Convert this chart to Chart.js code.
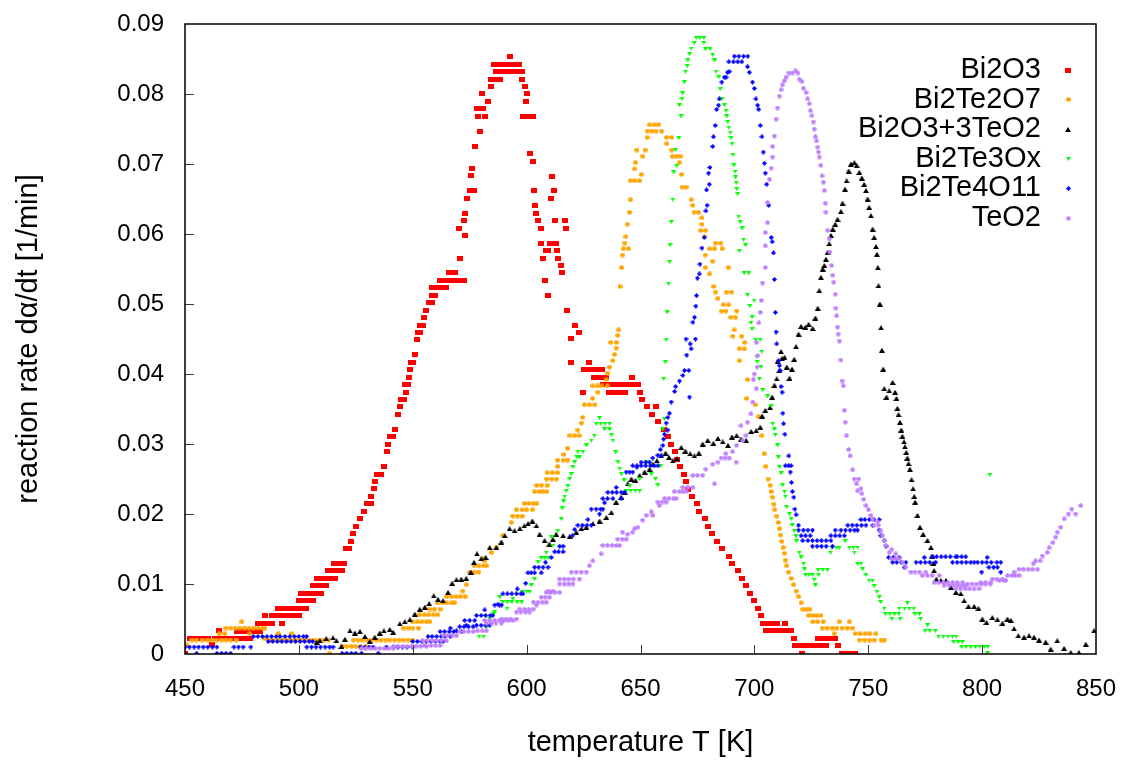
<!DOCTYPE html>
<html>
<head>
<meta charset="utf-8">
<script src="https://cdn.jsdelivr.net/npm/chart.js@4.4.0/dist/chart.umd.min.js"></script>
<style>
  body { margin: 0; background: #fff; }
  #wrap { width: 1123px; height: 760px; }
</style>
</head>
<body>
<div id="wrap"><canvas id="rateChart" width="1123" height="760"></canvas></div>
<script>
// Series: [temperature K, reaction rate 1/min]
const seriesNames = ['Bi2O3', 'Bi2Te2O7', 'Bi2O3+3TeO2', 'Bi2Te3Ox', 'Bi2Te4O11', 'TeO2'];
const xTicks = [450, 500, 550, 600, 650, 700, 750, 800, 850];
const yTicks = [0, 0.01, 0.02, 0.03, 0.04, 0.05, 0.06, 0.07, 0.08, 0.09];

const bi2o3 = [
  [450.2,0.0001],[452,0.0022],[454,0.0022],[456,0.0022],[458,0.0022],[460,0.0022],[462,0.0014],[463,0.0022],[465,0.0033],[465.5,0.0022],
  [467.5,0.0022],[469.5,0.0022],[471.5,0.0022],[473.5,0.0022],[473,0.0032],[475,0.0032],[477,0.0032],[479,0.0032],[481,0.0032],[483,0.0032],
  [476,0.0022],[478.5,0.0022],[482,0.0044],[484,0.0044],[486,0.0044],[488,0.0044],[485,0.0055],[488,0.0055],[490,0.0055],[492,0.0055],
  [494,0.0055],[496,0.0055],[498,0.0055],[500,0.0055],[492.5,0.0044],[491,0.0065],[493,0.0065],[495,0.0065],[497,0.0065],[499,0.0065],
  [501,0.0065],[503,0.0065],[500,0.0077],[502,0.0077],[504,0.0077],[506,0.0077],[501,0.0087],[503,0.0087],[505,0.0087],[507,0.0087],
  [509.5,0.0087],[506,0.0098],[508,0.0098],[510,0.0098],[512,0.0098],[508,0.0108],[510,0.0108],[512,0.0108],[514,0.0108],[516,0.0108],
  [513,0.0120],[515,0.0120],[517,0.0120],[519,0.0120],[515.5,0.0130],[517.5,0.0130],[520,0.0130],[520.7,0.0151],[522,0.0151],[522.9,0.0161],
  [523.8,0.0172],[525.1,0.0182],[526.9,0.0194],[528.6,0.0204],[530,0.0215],[531.5,0.0215],[531.7,0.0225],[533,0.0237],[533.5,0.0247],[534.5,0.0257],
  [536,0.0257],[537.4,0.0268],[538.6,0.0290],[539.2,0.0300],[540,0.0311],[541.2,0.0311],[542.2,0.0321],[543.6,0.0342],[544.4,0.0354],[545,0.0364],
  [546.2,0.0364],[547.1,0.0374],[546.8,0.0385],[548,0.0385],[548.4,0.0395],[548.8,0.0407],[549.2,0.0417],[550.2,0.0417],[551,0.0428],[551.9,0.0450],
  [552.2,0.0460],[553.4,0.0460],[553.3,0.0470],[554.5,0.0470],[555,0.0481],[556,0.0491],[557.3,0.0502],[558.5,0.0502],[558.6,0.0512],[559.8,0.0512],
  [558.5,0.0524],[560.5,0.0524],[562.5,0.0524],[564.5,0.0524],[562,0.0534],[564,0.0534],[566,0.0534],[568,0.0534],[570,0.0534],[572.3,0.0534],
  [566,0.0545],[568.5,0.0545],[570.8,0.0565],[570.3,0.0608],[572.8,0.0598],[572.5,0.0620],[573,0.0630],[573.8,0.0651],[575,0.0662],[577,0.0662],
  [575.6,0.0683],[576,0.0694],[577.2,0.0725],[579.5,0.0747],[578.6,0.0768],[581.7,0.0768],[578.2,0.0780],[580.8,0.0780],[582.9,0.0790],[580.4,0.0801],
  [584.5,0.0811],[584.3,0.0821],[586.5,0.0821],[588.5,0.0821],[586.5,0.0832],[588.5,0.0832],[590.5,0.0832],[592.3,0.0832],[585.7,0.0842],[588.5,0.0842],
  [590.5,0.0842],[592.5,0.0842],[594.5,0.0842],[596.5,0.0842],[592.7,0.0854],[594,0.0832],[596,0.0832],[597.8,0.0832],[598,0.0821],[599.3,0.0811],
  [600.2,0.0801],[599.7,0.0790],[598.5,0.0768],[600.5,0.0768],[602.8,0.0768],[601.4,0.0715],[602.8,0.0704],[611.2,0.0682],[603.2,0.0662],[612,0.0662],
  [610.7,0.0651],[603.7,0.0641],[604.3,0.0630],[605,0.0620],[612.4,0.0620],[616.8,0.0620],[606.3,0.0608],[617.2,0.0608],[606.3,0.0587],[610.2,0.0587],
  [612.9,0.0587],[608.6,0.0577],[609.5,0.0577],[613.3,0.0577],[607.2,0.0565],[613.7,0.0565],[615.2,0.0555],[615.5,0.0545],[607.9,0.0534],[609.3,0.0512],
  [617.8,0.0491],[621.4,0.0470],[623,0.0460],[619.6,0.0451],[619.7,0.0417],[627.2,0.0417],[625,0.0407],[627,0.0407],[629,0.0407],[631,0.0407],
  [633,0.0407],[629.5,0.0395],[631.5,0.0395],[633.5,0.0395],[635,0.0395],[646.2,0.0395],[633.5,0.0385],[635.5,0.0385],[637.5,0.0385],[639.5,0.0385],
  [641,0.0385],[643,0.0385],[645,0.0385],[647,0.0385],[649,0.0385],[624.7,0.0374],[636,0.0374],[638,0.0374],[640,0.0374],[641.7,0.0374],
  [643,0.0374],[649.7,0.0374],[650.5,0.0364],[653,0.0354],[656.7,0.0354],[654.9,0.0342],[657.9,0.0332],[660.5,0.0321],[662,0.0311],[663.5,0.0300],
  [665,0.0290],[666,0.0278],[667.5,0.0268],[669,0.0257],[670,0.0247],[671,0.0235],[672.8,0.0225],[675,0.0215],[675.8,0.0204],[678.2,0.0194],
  [679.7,0.0182],[681.3,0.0172],[683.5,0.0161],[686,0.0151],[688.7,0.0140],[690,0.0130],[693,0.0120],[694.6,0.0108],[696.2,0.0098],[698,0.0087],
  [699.7,0.0077],[701.8,0.0065],[702.8,0.0055],[703.8,0.0044],[705.8,0.0044],[707.8,0.0044],[710,0.0044],[713.5,0.0044],[705,0.0034],[707.5,0.0034],
  [709.5,0.0034],[711.5,0.0034],[713.5,0.0034],[716,0.0034],[717.2,0.0022],[728,0.0022],[730.5,0.0022],[733,0.0022],[735.5,0.0022],[718,0.0012],
  [720,0.0012],[722,0.0012],[724,0.0012],[726,0.0012],[728,0.0012],[730,0.0012],[731.5,0.0012],[736.8,0.0012],[720.7,0.0001],[738.3,0.0001],
  [740.3,0.0001],[742.3,0.0001],[744.3,0.0001]
];

const bi2te2o7 = [
  [450.7,0.0013],[453,0.0020],[455,0.0020],[457.5,0.0020],[460,0.0020],[462,0.0020],[464,0.0020],[466,0.0020],[468,0.0020],[470,0.0020],
  [472.5,0.0020],[465,0.0029],[467.5,0.0029],[478.5,0.0029],[468,0.0037],[470,0.0037],[472,0.0037],[474,0.0037],[476,0.0037],[478,0.0037],
  [480,0.0037],[482,0.0037],[484,0.0037],[474.9,0.0046],[485,0.0022],[485,0.0037],[487,0.0020],[489,0.0020],[491,0.0020],[493,0.0020],
  [491,0.0029],[495,0.0020],[497,0.0020],[499,0.0020],[501,0.0020],[503,0.0020],[505,0.0020],[496.8,0.0029],[507,0.0020],[509,0.0020],
  [511,0.0020],[513,0.0020],[513.6,0.0001],[519,0.0011],[521,0.0011],[523,0.0011],[525,0.0011],[527,0.0011],[529.5,0.0011],[524,0.0020],
  [526,0.0020],[528,0.0020],[530,0.0020],[532,0.0020],[534,0.0020],[536,0.0020],[538,0.0020],[540,0.0020],[542,0.0020],[544,0.0020],
  [546,0.0020],[548,0.0020],[550,0.0020],[546,0.0037],[548,0.0037],[550,0.0037],[552.5,0.0037],[550,0.0046],[552,0.0046],[554,0.0046],
  [556,0.0046],[557.5,0.0046],[553,0.0056],[555,0.0056],[557,0.0056],[559,0.0056],[561,0.0056],[557.5,0.0064],[559.5,0.0064],[562,0.0064],
  [561,0.0073],[563,0.0073],[565,0.0073],[567,0.0073],[568.4,0.0073],[565,0.0082],[567,0.0082],[569,0.0082],[571,0.0082],[573,0.0082],
  [572,0.0090],[573.5,0.0099],[575,0.0117],[577,0.0117],[579,0.0117],[577,0.0126],[579,0.0126],[581,0.0126],[582.5,0.0126],[580.8,0.0136],
  [581.6,0.0133],[584.5,0.0145],[586.7,0.0152],[589.6,0.0169],[593.3,0.0188],[594,0.0197],[596,0.0197],[598,0.0197],[595.5,0.0206],[598,0.0206],
  [600,0.0206],[602.5,0.0206],[599,0.0215],[601,0.0215],[603,0.0215],[604.4,0.0215],[603.5,0.0232],[605.5,0.0232],[607,0.0232],[608.8,0.0232],
  [604.4,0.0241],[606.5,0.0241],[609,0.0241],[608.8,0.0250],[611,0.0250],[613,0.0250],[609,0.0259],[611.3,0.0259],[613.6,0.0259],[613.7,0.0268],
  [613.6,0.0277],[616,0.0277],[618,0.0277],[616.4,0.0285],[618,0.0294],[619,0.0312],[621,0.0312],[623,0.0312],[622.5,0.0320],[624,0.0330],
  [624.7,0.0338],[625.4,0.0356],[627.5,0.0356],[630,0.0356],[629,0.0365],[631.3,0.0374],[629,0.0383],[631,0.0383],[633,0.0383],[635.5,0.0383],
  [634.9,0.0392],[635.6,0.0401],[636.4,0.0410],[637.9,0.0419],[638.6,0.0428],[639.3,0.0437],[637,0.0445],[639.3,0.0445],[640,0.0455],[640.4,0.0463],
  [641,0.0525],[641.7,0.0552],[642.1,0.0570],[642.5,0.0579],[644.7,0.0579],[643.1,0.0587],[643.6,0.0596],[644.2,0.0614],[645.2,0.0631],[645.6,0.0649],
  [645.5,0.0676],[647.5,0.0676],[649.5,0.0676],[647.4,0.0693],[647.8,0.0702],[650.3,0.0685],[648.4,0.0720],[652,0.0720],[651,0.0711],[652.9,0.0738],
  [653,0.0747],[655,0.0747],[656.8,0.0747],[654,0.0756],[656,0.0756],[658,0.0756],[659.3,0.0747],[661.5,0.0738],[663.7,0.0738],[661.5,0.0729],
  [663.7,0.0720],[664,0.0711],[665.7,0.0711],[667.4,0.0711],[667,0.0702],[668,0.0685],[668.3,0.0667],[670,0.0667],[672.2,0.0649],[673,0.0641],
  [673.5,0.0631],[675.5,0.0631],[677,0.0623],[677,0.0614],[676.5,0.0605],[678.5,0.0605],[678,0.0596],[683,0.0587],[685.3,0.0587],[680.5,0.0579],
  [682.5,0.0579],[685.8,0.0579],[678.4,0.0570],[681.7,0.0561],[678.4,0.0552],[688.6,0.0552],[680.3,0.0543],[682.2,0.0525],[683,0.0517],[687.7,0.0517],
  [690,0.0517],[684,0.0508],[686.4,0.0499],[688.7,0.0499],[685.5,0.0490],[687.5,0.0490],[692.3,0.0490],[689.7,0.0481],[691.6,0.0481],[691.1,0.0463],
  [690.6,0.0454],[694.5,0.0454],[695.8,0.0445],[693.5,0.0436],[695.5,0.0436],[693.4,0.0419],[697,0.0392],[696.6,0.0365],[700.4,0.0356],[701.8,0.0339],
  [703.3,0.0312],[704.3,0.0286],[705,0.0268],[706,0.0250],[706.9,0.0241],[707.3,0.0232],[708,0.0224],[708.6,0.0214],[709,0.0206],[709.8,0.0197],
  [710.5,0.0188],[711,0.0179],[711.4,0.0170],[712,0.0161],[712.6,0.0152],[713.2,0.0144],[713.6,0.0134],[714.2,0.0126],[715,0.0117],[716.1,0.0108],
  [717.2,0.0099],[718.3,0.0090],[719.4,0.0082],[720.5,0.0073],[721.3,0.0064],[722.8,0.0064],[724.4,0.0064],[723.9,0.0055],[725.5,0.0055],[727.3,0.0055],
  [729.2,0.0055],[725.7,0.0046],[727.7,0.0046],[730.2,0.0046],[737.3,0.0046],[741.7,0.0046],[729.8,0.0037],[732,0.0037],[734.2,0.0037],[736.2,0.0037],
  [738.5,0.0037],[740.8,0.0037],[743,0.0037],[735,0.0029],[744.2,0.0029],[746.4,0.0029],[748.6,0.0029],[750.7,0.0029],[753.4,0.0029],[746.2,0.0020],
  [748.4,0.0020],[750.6,0.0020],[752.6,0.0020],[755.6,0.0020],[757,0.0020]
];

const bi2o3TeO2 = [
  [507.8,0.0017],[509.2,0.0019],[512,0.0022],[515,0.0023],[516.5,0.0019],[518.7,0.0011],[520.2,0.0021],[522.4,0.0033],[524.6,0.0030],[526.8,0.0032],
  [529,0.0025],[531.1,0.0018],[533.3,0.0024],[535.5,0.0030],[537.3,0.0033],[539.9,0.0035],[541.4,0.0031],[544.3,0.0043],[546.5,0.0046],[548.7,0.0049],
  [550.9,0.0057],[553.1,0.0064],[555.3,0.0067],[557.2,0.0072],[559.2,0.0083],[561.1,0.0078],[563.3,0.0076],[565.5,0.0088],[567.3,0.0101],[569.2,0.0106],
  [571.3,0.0107],[573.5,0.0108],[575.5,0.0117],[576.9,0.0131],[578.2,0.0143],[580.1,0.0136],[582,0.0138],[583.8,0.0152],[586.7,0.0152],[588.9,0.0160],
  [590.4,0.0169],[592.5,0.0179],[594.7,0.0176],[597,0.0179],[599,0.0183],[600.6,0.0186],[602.5,0.0190],[604.3,0.0183],[605.7,0.0171],[607.9,0.0162],
  [610,0.0157],[611.5,0.0164],[613,0.0171],[616,0.0169],[618.9,0.0168],[621.8,0.0174],[624,0.0179],[626.2,0.0181],[629.1,0.0186],[632,0.0190],
  [635,0.0195],[637.2,0.0202],[639.3,0.0217],[641.5,0.0224],[643,0.0231],[644.4,0.0243],[646,0.0250],[647.8,0.0248],[649.6,0.0255],[651.8,0.0260],
  [654,0.0264],[655.4,0.0271],[657.2,0.0276],[659.1,0.0283],[661,0.0287],[662.5,0.0281],[664.2,0.0276],[666,0.0279],[667.9,0.0295],[669.7,0.0290],
  [671.8,0.0286],[673.7,0.0283],[675.6,0.0287],[677.3,0.0300],[679.5,0.0305],[682,0.0301],[684,0.0308],[686.1,0.0303],[688.4,0.0298],[690.2,0.0310],
  [692.2,0.0312],[694.2,0.0307],[696.4,0.0305],[698.6,0.0318],[700.8,0.0319],[702.6,0.0324],[703.4,0.0340],[704.8,0.0348],[706.9,0.0352],[707.8,0.0367],
  [708.8,0.0384],[709.8,0.0393],[711,0.0405],[710.2,0.0418],[712.1,0.0422],[711.7,0.0432],[713.2,0.0424],[714.2,0.0410],[715.4,0.0394],[716.5,0.0407],
  [717.5,0.0421],[718.3,0.0439],[719.4,0.0457],[720.5,0.0468],[722.4,0.0467],[723.8,0.0471],[725.6,0.0465],[726.8,0.0480],[727.8,0.0494],[728.5,0.0519],
  [729.2,0.0538],[730,0.0550],[730.7,0.0555],[731.4,0.0564],[732.2,0.0574],[732.9,0.0586],[733.6,0.0598],[734.4,0.0607],[735.5,0.0614],[736.5,0.0621],
  [738,0.0632],[738.7,0.0644],[739.8,0.0664],[740.5,0.0676],[741.4,0.0690],[742.4,0.0700],[743.9,0.0702],[744.9,0.0698],[746.1,0.0688],[747.2,0.0680],
  [748.2,0.0671],[749,0.0662],[749.7,0.0650],[750.4,0.0638],[751.2,0.0626],[751.9,0.0607],[752.6,0.0595],[753.4,0.0582],[753.8,0.0571],[754.2,0.0552],
  [754.5,0.0526],[755.1,0.0500],[755.6,0.0466],[756,0.0434],[756.6,0.0407],[757,0.0379],[758,0.0367],[759.2,0.0376],[760.7,0.0388],[761.8,0.0374],
  [762.4,0.0365],[762.8,0.0351],[763.3,0.0342],[763.9,0.0331],[764.5,0.0320],[765,0.0311],[765.7,0.0303],[766.1,0.0296],[766.7,0.0288],[767.2,0.0280],
  [767.7,0.0272],[768.3,0.0264],[769,0.0249],[769.7,0.0236],[770.2,0.0225],[770.6,0.0217],[771.6,0.0198],[772.7,0.0181],[774.1,0.0171],[776,0.0162],
  [777.5,0.0152],[778.2,0.0140],[778.6,0.0130],[778.9,0.0119],[779.9,0.0107],[781.9,0.0105],[784.1,0.0105],[786.3,0.0095],[788.5,0.0088],[790.6,0.0086],
  [792.1,0.0076],[794,0.0068],[796.5,0.0068],[798.4,0.0065],[800.1,0.0050],[801.9,0.0045],[804.5,0.0052],[806.7,0.0049],[808.9,0.0044],[811.1,0.0050],
  [812.6,0.0048],[814,0.0036],[815.9,0.0026],[818.4,0.0024],[820.6,0.0026],[822.8,0.0024],[825,0.0020],[827.9,0.0017],[830.1,0.0007],[833,0.0019],
  [836,0.0008],[838.9,0.0002],[842.5,0.0002],[845.5,0.0014],[849.1,0.0033]
];

const bi2te3ox = [
  [579.1,0.0025],[581.1,0.0025],[582.3,0.0038],[583.8,0.0050],[585.5,0.0057],[586,0.0060],[588.2,0.0081],[589.5,0.0074],[591.4,0.0065],[591.5,0.0074],
  [593.5,0.0074],[594,0.0079],[595.8,0.0074],[597.8,0.0074],[598,0.0089],[600,0.0089],[601.3,0.0089],[602,0.0098],[603.5,0.0107],[605,0.0131],
  [606.4,0.0137],[608,0.0137],[609.4,0.0137],[608.6,0.0145],[611.5,0.0155],[610.8,0.0167],[613.7,0.0176],[615.2,0.0193],[615.6,0.0208],[616.2,0.0218],
  [616.7,0.0225],[617.4,0.0233],[618.1,0.0240],[618.9,0.0250],[619.6,0.0257],[620.3,0.0267],[621.1,0.0274],[622.1,0.0281],[623.2,0.0281],[622.5,0.0289],
  [624.7,0.0289],[626.2,0.0298],[628.4,0.0305],[629.8,0.0312],[630.6,0.0329],[632.5,0.0329],[634.5,0.0329],[636.4,0.0329],[632,0.0337],[634.2,0.0321],
  [636.4,0.0321],[637.2,0.0313],[637.9,0.0305],[639.1,0.0288],[640.1,0.0274],[640.9,0.0265],[641.6,0.0257],[642.8,0.0248],[645.3,0.0240],[643.7,0.0233],
  [645.7,0.0233],[647.7,0.0233],[649.6,0.0233],[649.6,0.0250],[652.5,0.0274],[654.7,0.0257],[656.6,0.0250],[657.6,0.0241],[658.7,0.0268],[659.8,0.0321],
  [660.5,0.0336],[660.2,0.0393],[660.8,0.0417],[661.3,0.0449],[661.7,0.0488],[662.3,0.0529],[662.7,0.0560],[663,0.0584],[663.5,0.0617],[664.2,0.0649],
  [664.6,0.0688],[665.9,0.0697],[665.3,0.0720],[666.8,0.0737],[667.8,0.0768],[667.1,0.0784],[668.2,0.0793],[668.5,0.0801],[669.3,0.0817],[669.7,0.0832],
  [670.5,0.0840],[670.8,0.0848],[671.5,0.0857],[672.2,0.0865],[673.7,0.0873],[674.5,0.0880],[676,0.0880],[677.8,0.0880],[677.8,0.0873],[678.5,0.0864],
  [680.5,0.0864],[681.7,0.0856],[682.5,0.0848],[683.2,0.0832],[684.4,0.0824],[685,0.0807],[685.8,0.0793],[686.8,0.0784],[687.6,0.0776],[687.9,0.0768],
  [688.3,0.0760],[688.8,0.0752],[689.4,0.0745],[689.7,0.0737],[690.2,0.0729],[690.6,0.0713],[691,0.0698],[691.5,0.0689],[691.7,0.0681],[692,0.0673],
  [692.3,0.0664],[692.7,0.0657],[693.1,0.0625],[693.7,0.0617],[694.6,0.0608],[695.2,0.0592],[693.4,0.0576],[696.1,0.0584],[695.5,0.0544],[697.5,0.0544],
  [697,0.0513],[699.9,0.0505],[698,0.0497],[699,0.0481],[698.5,0.0473],[699,0.0464],[700.5,0.0449],[702.5,0.0449],[703.2,0.0432],[701,0.0425],
  [701.2,0.0417],[702.9,0.0410],[702.2,0.0393],[703.7,0.0377],[705.8,0.0368],[707.3,0.0354],[708,0.0329],[708.8,0.0321],[709.2,0.0313],[710.2,0.0298],
  [710.5,0.0281],[711,0.0267],[711.7,0.0258],[712.4,0.0241],[713.2,0.0232],[713.6,0.0225],[714.2,0.0210],[715.4,0.0200],[716.1,0.0193],[716.6,0.0184],
  [717.5,0.0176],[718.3,0.0168],[718.6,0.0161],[719.7,0.0145],[720.5,0.0138],[721.5,0.0129],[722,0.0121],[722.5,0.0113],[724,0.0113],[725.6,0.0113],
  [726.3,0.0106],[726.8,0.0098],[728.2,0.0113],[728,0.0120],[730,0.0120],[732,0.0120],[733.5,0.0145],[734,0.0152],[736,0.0152],[737.3,0.0152],
  [739.8,0.0161],[741.7,0.0152],[743.5,0.0152],[745.3,0.0152],[743.9,0.0145],[745.3,0.0129],[746.8,0.0129],[747.5,0.0121],[749,0.0113],[750.4,0.0105],
  [751.9,0.0105],[752.6,0.0097],[753.8,0.0089],[754.8,0.0081],[755.5,0.0074],[757,0.0065],[757.5,0.0057],[759.5,0.0057],[761.5,0.0057],[763.5,0.0057],
  [760.4,0.0050],[764,0.0050],[763.6,0.0065],[766,0.0065],[768,0.0065],[770,0.0065],[767.2,0.0073],[770.5,0.0057],[772.5,0.0057],[773,0.0050],
  [776,0.0041],[775,0.0033],[777,0.0033],[779.5,0.0033],[780.8,0.0025],[783,0.0025],[785,0.0025],[787,0.0025],[788.6,0.0025],[787.5,0.0017],
  [789.5,0.0017],[791.4,0.0017],[791,0.0010],[793,0.0010],[795,0.0010],[797,0.0010],[799,0.0010],[801,0.0010],[802.5,0.0010],[802.4,0.0001],
  [803.4,0.0256]
];

const bi2te4o11 = [
  [450,0.0010],[452,0.0010],[454,0.0010],[456,0.0010],[458,0.0010],[460,0.0010],[462,0.0010],[464,0.0010],[455.1,0.0001],[464,0.0001],
  [466,0.0001],[468,0.0001],[470,0.0001],[471.5,0.0010],[473.5,0.0010],[475.5,0.0010],[478.9,0.0010],[480,0.0025],[482,0.0025],[484,0.0025],
  [486,0.0025],[488,0.0025],[490,0.0025],[491.7,0.0025],[493.9,0.0025],[486.5,0.0018],[488.5,0.0018],[490.5,0.0018],[492.5,0.0018],[494.5,0.0018],
  [496.5,0.0018],[498.5,0.0018],[500.5,0.0018],[502.5,0.0018],[504.5,0.0018],[506,0.0018],[496,0.0025],[498,0.0025],[500,0.0025],[502,0.0025],
  [503.4,0.0025],[503.5,0.0010],[505.5,0.0010],[507.5,0.0010],[509.5,0.0010],[511.5,0.0010],[513.5,0.0010],[515,0.0010],[519,0.0001],[521,0.0001],
  [523,0.0001],[525,0.0001],[527.5,0.0001],[534.8,0.0001],[527,0.0010],[529,0.0010],[531,0.0010],[532.6,0.0010],[538.4,0.0010],[541.5,0.0010],
  [543.5,0.0010],[545.5,0.0010],[547.5,0.0010],[550,0.0010],[550,0.0018],[552,0.0018],[554,0.0018],[556,0.0018],[558,0.0018],[560,0.0018],
  [562,0.0018],[563.3,0.0018],[556.7,0.0025],[558.5,0.0025],[560.5,0.0025],[562.5,0.0025],[564,0.0025],[566.5,0.0025],[562,0.0032],[564,0.0032],
  [566,0.0032],[568,0.0032],[569.2,0.0033],[571.4,0.0032],[566.5,0.0037],[570.6,0.0039],[572.5,0.0039],[574.5,0.0039],[576.5,0.0039],[573.5,0.0041],
  [578,0.0041],[580,0.0041],[582,0.0041],[583.8,0.0041],[572.8,0.0048],[575,0.0048],[577.2,0.0048],[578,0.0055],[580,0.0055],[582,0.0055],
  [584,0.0055],[585.1,0.0055],[581.6,0.0063],[586,0.0070],[588,0.0070],[589,0.0070],[587.4,0.0071],[589.6,0.0086],[591.5,0.0086],[593.5,0.0086],
  [595.5,0.0086],[597.5,0.0086],[598.4,0.0086],[595.9,0.0093],[599.6,0.0101],[600.6,0.0116],[602,0.0116],[603.5,0.0116],[606.4,0.0116],[603.5,0.0124],
  [605.3,0.0124],[607.2,0.0124],[609.4,0.0124],[608.3,0.0131],[610.8,0.0138],[612.3,0.0146],[614,0.0146],[616,0.0146],[614.5,0.0154],[616,0.0154],
  [620.1,0.0169],[621.1,0.0178],[622.5,0.0184],[624.5,0.0184],[626.5,0.0184],[628.4,0.0184],[626.9,0.0192],[628.4,0.0207],[630.5,0.0207],[632.5,0.0207],
  [633.5,0.0207],[632,0.0200],[634.2,0.0216],[633.5,0.0222],[635.5,0.0222],[637.9,0.0222],[641.5,0.0222],[635.7,0.0231],[637.6,0.0231],[639.5,0.0231],
  [641.5,0.0231],[643,0.0231],[639.3,0.0238],[643.7,0.0260],[645.2,0.0260],[646.6,0.0260],[646.6,0.0269],[648.5,0.0269],[650.3,0.0269],[652.3,0.0269],
  [654.3,0.0269],[656,0.0269],[657.6,0.0269],[648.4,0.0267],[650.3,0.0274],[652.3,0.0274],[654,0.0274],[655.4,0.0280],[657.6,0.0284],[659.1,0.0283],
  [658.7,0.0292],[659.8,0.0298],[660.1,0.0307],[660.5,0.0314],[662,0.0320],[661.3,0.0330],[662,0.0338],[662.7,0.0344],[663.5,0.0360],[665,0.0375],
  [665.4,0.0382],[667.1,0.0390],[668.6,0.0398],[669.3,0.0405],[671.2,0.0405],[671.5,0.0367],[670.3,0.0427],[672.2,0.0436],[671.8,0.0443],[670,0.0450],
  [674.1,0.0450],[673,0.0474],[673.7,0.0481],[674.3,0.0497],[674.6,0.0512],[675,0.0537],[675.8,0.0543],[676.1,0.0557],[677,0.0580],[678,0.0595],
  [678.7,0.0633],[679.2,0.0641],[679,0.0663],[680.2,0.0671],[679.9,0.0687],[680.5,0.0695],[681.7,0.0725],[682,0.0739],[682.8,0.0755],[683.4,0.0778],
  [684.3,0.0784],[684.6,0.0793],[685.7,0.0817],[686.8,0.0824],[687.6,0.0824],[688.2,0.0831],[689,0.0832],[688.8,0.0846],[690.8,0.0846],[692.7,0.0846],
  [691.2,0.0854],[693.2,0.0854],[695.2,0.0854],[697.1,0.0854],[694.5,0.0846],[697,0.0839],[697.8,0.0831],[699.2,0.0817],[700,0.0808],[700.7,0.0793],
  [701.4,0.0784],[701.9,0.0778],[702.6,0.0755],[703.3,0.0739],[703.9,0.0717],[704.4,0.0701],[704.8,0.0687],[705.4,0.0671],[706.3,0.0641],[707.4,0.0595],
  [707.8,0.0589],[708.4,0.0573],[708.8,0.0535],[709.2,0.0488],[709.5,0.0460],[709.8,0.0443],[710.7,0.0419],[711,0.0412],[711.3,0.0405],[711.7,0.0382],
  [712.2,0.0374],[712.5,0.0344],[712.8,0.0329],[713.4,0.0314],[715.1,0.0283],[713.6,0.0269],[715,0.0269],[716.1,0.0269],[715.8,0.0260],[716.3,0.0245],
  [716.7,0.0232],[717.3,0.0224],[717.8,0.0207],[718.3,0.0199],[719.4,0.0184],[719.4,0.0177],[721.5,0.0177],[723.5,0.0177],[725.5,0.0177],[720.5,0.0169],
  [722.5,0.0169],[724.5,0.0169],[721.2,0.0162],[723.5,0.0162],[725.5,0.0162],[727.5,0.0162],[729.5,0.0162],[731.5,0.0162],[733.6,0.0162],[725.5,0.0154],
  [727.5,0.0154],[729.5,0.0154],[731.5,0.0154],[734.3,0.0154],[733.6,0.0169],[735.5,0.0169],[737.5,0.0169],[739.5,0.0169],[735.5,0.0177],[738,0.0177],
  [740,0.0177],[742,0.0177],[744,0.0177],[745.3,0.0177],[741,0.0184],[743,0.0184],[745,0.0184],[747,0.0184],[749,0.0184],[751.9,0.0184],
  [746.8,0.0192],[748.5,0.0192],[750.5,0.0192],[752.5,0.0192],[754.8,0.0192],[754.8,0.0177],[755.5,0.0169],[757,0.0162],[757.8,0.0154],[759,0.0138],
  [761,0.0138],[763.6,0.0138],[760.7,0.0131],[762.5,0.0131],[764.5,0.0131],[766.5,0.0131],[765.8,0.0124],[771,0.0131],[773,0.0131],[775,0.0131],
  [777,0.0131],[779.6,0.0131],[774.6,0.0138],[778,0.0139],[780,0.0139],[782,0.0139],[784,0.0139],[786,0.0139],[788.4,0.0139],[789,0.0139],
  [791,0.0139],[792.8,0.0139],[787,0.0131],[789,0.0131],[791,0.0131],[793,0.0131],[795,0.0131],[796.5,0.0131],[798,0.0131],[800,0.0131],
  [802,0.0131],[804,0.0131],[806.5,0.0131],[802.2,0.0138],[799.8,0.0117],[803,0.0124],[805,0.0124],[806.7,0.0124],[808.2,0.0117],[808.2,0.0131]
];

const teo2 = [
  [527.5,0.0008],[529.5,0.0008],[531.5,0.0008],[533.5,0.0008],[535.5,0.0008],[537.5,0.0008],[539.5,0.0008],[541.4,0.0008],[541.5,0.0011],[543.5,0.0011],
  [545.5,0.0011],[547.5,0.0011],[549.5,0.0011],[551.5,0.0011],[553.5,0.0011],[556,0.0011],[555,0.0012],[558,0.0012],[560,0.0012],[562,0.0012],
  [554.5,0.0019],[556.5,0.0019],[558.5,0.0019],[560.5,0.0019],[562.5,0.0019],[564.8,0.0019],[563.3,0.0026],[565.3,0.0026],[567.3,0.0026],[569.2,0.0026],
  [570.6,0.0032],[572.5,0.0032],[574.5,0.0032],[576.5,0.0032],[578.5,0.0033],[580.5,0.0033],[582.3,0.0033],[582.3,0.0044],[584.5,0.0044],[586.5,0.0044],
  [588.9,0.0044],[581.6,0.0048],[583.8,0.0048],[586,0.0048],[588,0.0048],[590,0.0048],[592,0.0048],[594,0.0048],[589,0.0050],[591,0.0050],
  [593,0.0050],[595.5,0.0050],[595.5,0.0060],[597.5,0.0060],[599.5,0.0060],[601.3,0.0060],[597,0.0064],[599,0.0064],[601,0.0064],[602.8,0.0064],
  [603,0.0074],[605,0.0074],[607,0.0074],[608.6,0.0074],[604.3,0.0070],[606.4,0.0081],[608.2,0.0081],[610,0.0081],[608.6,0.0088],[610.5,0.0088],
  [612.5,0.0088],[614.5,0.0088],[609.4,0.0090],[611.5,0.0090],[614.5,0.0100],[616.5,0.0100],[618.5,0.0100],[620.3,0.0100],[614.5,0.0107],[616.5,0.0107],
  [618.5,0.0107],[620.5,0.0107],[623.2,0.0107],[619.6,0.0117],[621.8,0.0117],[624,0.0117],[626.2,0.0117],[627.6,0.0126],[629.1,0.0133],[632.7,0.0143],
  [633.5,0.0155],[635.5,0.0155],[637.5,0.0155],[639.5,0.0155],[640.8,0.0155],[640,0.0164],[642,0.0164],[643.7,0.0164],[642.2,0.0174],[644.4,0.0171],
  [646.6,0.0174],[647.4,0.0179],[648.8,0.0181],[651,0.0191],[652.5,0.0198],[654.7,0.0203],[655.4,0.0198],[657.6,0.0217],[659.5,0.0217],[661.3,0.0217],
  [658.3,0.0212],[660.5,0.0222],[662.5,0.0222],[664.5,0.0222],[665.6,0.0222],[664.9,0.0232],[667,0.0232],[668.5,0.0232],[670,0.0232],[668.6,0.0238],
  [670.8,0.0238],[673,0.0238],[673,0.0255],[675,0.0255],[677.3,0.0255],[678.7,0.0264],[682.5,0.0243],[681.7,0.0271],[684,0.0274],[685.4,0.0280],
  [687.2,0.0280],[689,0.0280],[687.5,0.0286],[690.4,0.0289],[692,0.0274],[692.2,0.0298],[694.9,0.0305],[696.3,0.0312],[694.1,0.0326],[697,0.0331],
  [698.5,0.0343],[699.3,0.0360],[700.8,0.0379],[699.6,0.0392],[700,0.0400],[701.2,0.0410],[701.5,0.0426],[700.8,0.0445],[702,0.0473],[702.6,0.0488],
  [703,0.0505],[703.6,0.0530],[704.8,0.0552],[704.8,0.0583],[704.8,0.0602],[705.8,0.0616],[705.8,0.0645],[706.6,0.0678],[707.3,0.0694],[708,0.0710],
  [708,0.0725],[708.8,0.0740],[709.5,0.0764],[710.2,0.0780],[711,0.0797],[711.7,0.0806],[712.4,0.0813],[713.2,0.0819],[713.9,0.0824],[715.1,0.0830],
  [716.6,0.0830],[718.1,0.0833],[719.1,0.0830],[719.7,0.0821],[720.9,0.0818],[721.6,0.0808],[722.7,0.0802],[723.4,0.0793],[724.1,0.0786],[724.6,0.0776],
  [725.3,0.0769],[725.9,0.0760],[726.3,0.0750],[726.8,0.0739],[727.3,0.0733],[727.8,0.0724],[728.2,0.0717],[728.5,0.0710],[729.2,0.0698],[729.7,0.0683],
  [730.3,0.0674],[730.7,0.0662],[731.1,0.0644],[731.4,0.0631],[732.2,0.0605],[732.9,0.0593],[733.2,0.0574],[733.9,0.0555],[734.4,0.0541],[734.8,0.0531],
  [735.5,0.0514],[735.8,0.0494],[736.1,0.0483],[736.5,0.0467],[736.8,0.0457],[737.3,0.0447],[738,0.0420],[738.5,0.0390],[739,0.0383],[739.5,0.0348],
  [739.9,0.0331],[740.5,0.0312],[741.4,0.0292],[742,0.0283],[743.1,0.0263],[743.9,0.0250],[745.8,0.0250],[744.9,0.0243],[745.3,0.0233],[746.8,0.0236],
  [747.2,0.0229],[748,0.0221],[749,0.0212],[750.1,0.0206],[751.2,0.0198],[751.9,0.0192],[752.5,0.0184],[754.5,0.0184],[754.1,0.0189],[755.5,0.0176],
  [756.2,0.0169],[757,0.0162],[757.7,0.0155],[759.2,0.0145],[760.4,0.0149],[760,0.0136],[762,0.0136],[763.6,0.0136],[762.1,0.0143],[765,0.0131],
  [766.5,0.0124],[768.7,0.0117],[770.5,0.0117],[772.5,0.0117],[775.3,0.0117],[773.8,0.0112],[776,0.0112],[778,0.0112],[781.1,0.0112],[778.9,0.0102],
  [781,0.0102],[783,0.0102],[785,0.0102],[787,0.0102],[789,0.0102],[791.4,0.0102],[783.3,0.0098],[785.5,0.0098],[787.5,0.0098],[789.5,0.0098],
  [791.5,0.0098],[792.8,0.0098],[788.4,0.0093],[790.5,0.0093],[792.5,0.0093],[794.5,0.0093],[796.5,0.0093],[798.7,0.0093],[793.6,0.0100],[795.6,0.0100],
  [797.6,0.0100],[799.6,0.0100],[801.6,0.0100],[803.6,0.0100],[799.4,0.0102],[801.5,0.0102],[803.8,0.0102],[804.5,0.0107],[806.5,0.0107],[808.9,0.0107],
  [807.5,0.0105],[809.5,0.0105],[810.4,0.0105],[811.1,0.0112],[813,0.0112],[814.5,0.0112],[816.2,0.0112],[814,0.0117],[816.2,0.0121],[818.2,0.0121],
  [820.2,0.0121],[822.2,0.0121],[824.3,0.0121],[822.5,0.0129],[823.5,0.0133],[825.5,0.0133],[826.5,0.0140],[828.6,0.0145],[829.4,0.0152],[831.1,0.0159],
  [832.3,0.0167],[833,0.0174],[834.5,0.0181],[836,0.0193],[837.9,0.0200],[839.4,0.0207],[841.1,0.0200],[843.3,0.0212]
];

const seriesData = [bi2o3, bi2te2o7, bi2o3TeO2, bi2te3ox, bi2te4o11, teo2];
const seriesColors = ['#ff0000', '#ffa500', '#000000', '#00ff00', '#0000ff', '#bf80ff'];

const fontFamily = '"Liberation Sans", Arial, sans-serif';

// Small canvases used as point markers (gnuplot-like symbols)
function makeMarker(shape, color) {
    const c = document.createElement('canvas');
    const sizes = { rect: [6, 5], dot: [5, 5], up: [6, 5], down: [5, 4], diamond: [5, 5], penta: [5, 5] };
    const [w, h] = sizes[shape];
    c.width = w;
    c.height = h;
    const g = c.getContext('2d');
    g.fillStyle = color;
    g.beginPath();
    if (shape === 'rect') {
        g.rect(0, 0, w, h);
    } else if (shape === 'dot') {
        g.ellipse(w / 2, h / 2, 2.5, 2.3, 0, 0, Math.PI * 2);
    } else if (shape === 'up') {
        g.moveTo(w / 2, 0); g.lineTo(w, h); g.lineTo(0, h);
    } else if (shape === 'down') {
        g.moveTo(0, 0); g.lineTo(w, 0); g.lineTo(w / 2, h);
    } else if (shape === 'diamond') {
        g.moveTo(w / 2, 0); g.lineTo(w, h / 2); g.lineTo(w / 2, h); g.lineTo(0, h / 2);
    } else {
        for (let k = 0; k < 5; k++) {
            const a = -Math.PI / 2 + k * 2 * Math.PI / 5;
            g.lineTo(w / 2 + 2.6 * Math.cos(a), h / 2 + 2.6 * Math.sin(a));
        }
    }
    g.closePath();
    g.fill();
    return c;
}

const markerShapes = ['rect', 'dot', 'up', 'down', 'diamond', 'penta'];
const markers = markerShapes.map((s, i) => makeMarker(s, seriesColors[i]));

// Frame and inward tick marks like the gnuplot original
const framePlugin = {
    id: 'frameTicks',
    afterDraw(chart) {
        const { ctx, chartArea: a, scales: { x, y } } = chart;
        ctx.save();
        ctx.strokeStyle = '#3a3a3a';
        ctx.lineWidth = 1;
        x.ticks.forEach(t => {
            const px = Math.round(x.getPixelForValue(t.value)) + 0.5;
            if (px <= a.left + 1 || px >= a.right - 1) return;
            ctx.beginPath();
            ctx.moveTo(px, a.bottom);
            ctx.lineTo(px, a.bottom - 9);
            ctx.stroke();
        });
        y.ticks.forEach(t => {
            const py = Math.round(y.getPixelForValue(t.value)) + 0.5;
            if (py <= a.top + 1 || py >= a.bottom - 1) return;
            ctx.beginPath();
            ctx.moveTo(a.left, py);
            ctx.lineTo(a.left + 9, py);
            ctx.stroke();
        });
        ctx.strokeStyle = '#000';
        ctx.lineWidth = 1.5;
        ctx.strokeRect(a.left, a.top, a.right - a.left, a.bottom - a.top);
        ctx.restore();
    }
};

// Key in the upper right corner: text right-aligned, symbol after it
const keyPlugin = {
    id: 'keyBox',
    afterDatasetsDraw(chart) {
        const ctx = chart.ctx;
        ctx.save();
        ctx.font = '29px ' + fontFamily;
        ctx.textAlign = 'right';
        ctx.textBaseline = 'middle';
        ctx.fillStyle = '#000';
        chart.data.datasets.forEach((ds, i) => {
            const yy = 70 + i * 29.6;
            ctx.fillText(ds.label, 1041, yy);
            const m = ds.pointStyle;
            ctx.drawImage(m, Math.round(1068 - m.width / 2), Math.round(yy - m.height / 2));
        });
        ctx.restore();
    }
};

const datasets = seriesNames.map((name, i) => ({
    label: name,
    data: seriesData[i],
    pointStyle: markers[i],
    pointRadius: 3,
    pointHoverRadius: 3,
    backgroundColor: seriesColors[i],
    borderColor: seriesColors[i],
    showLine: false,
    order: seriesNames.length - i
}));

new Chart(document.getElementById('rateChart').getContext('2d'), {
    type: 'scatter',
    data: { datasets },
    options: {
        responsive: false,
        animation: false,
        events: [],
        layout: { padding: { top: 24, right: 27, left: 0, bottom: 0 } },
        plugins: {
            legend: { display: false },
            tooltip: { enabled: false }
        },
        scales: {
            x: {
                type: 'linear',
                min: 450,
                max: 850,
                afterBuildTicks: s => { s.ticks = xTicks.map(v => ({ value: v })); },
                afterFit: s => { s.height = 106; s.paddingLeft = 0; s.paddingRight = 0; },
                grid: { display: false, drawTicks: false },
                border: { display: false },
                ticks: {
                    color: '#000',
                    padding: 21,
                    maxRotation: 0,
                    font: { family: fontFamily, size: 24 }
                },
                title: {
                    display: true,
                    text: 'temperature T [K]',
                    color: '#000',
                    padding: { top: 0, bottom: 0 },
                    font: { family: fontFamily, size: 29 }
                }
            },
            y: {
                type: 'linear',
                min: 0,
                max: 0.09,
                afterBuildTicks: s => { s.ticks = yTicks.map(v => ({ value: v })); },
                afterFit: s => { s.width = 185; s.paddingTop = 0; s.paddingBottom = 0; },
                grid: { display: false, drawTicks: false },
                border: { display: false },
                ticks: {
                    color: '#000',
                    padding: 21,
                    font: { family: fontFamily, size: 24 },
                    callback: v => (v === 0 ? '0' : v.toFixed(2))
                },
                title: {
                    display: true,
                    text: 'reaction rate dα/dt [1/min]',
                    color: '#000',
                    padding: { top: 12, bottom: 0 },
                    font: { family: fontFamily, size: 29 }
                }
            }
        }
    },
    plugins: [framePlugin, keyPlugin]
});
</script>
</body>
</html>
